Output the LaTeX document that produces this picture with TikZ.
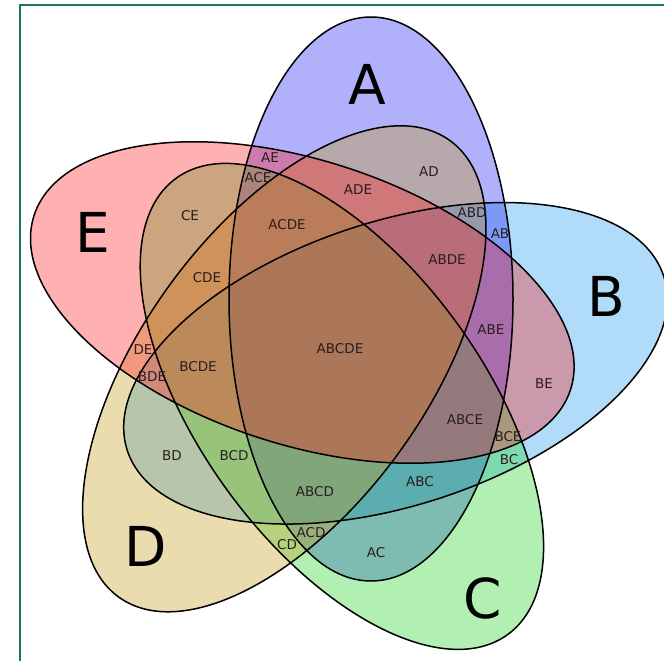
\documentclass[tikz,border=0pt]{standalone}
\usepackage{fontspec}
\setmainfont{DejaVu Sans}
\definecolor{cA}{RGB}{29,29,246}
\definecolor{cB}{RGB}{29,155,241}
\definecolor{cC}{RGB}{35,212,40}
\definecolor{cD}{RGB}{198,155,26}
\definecolor{cE}{RGB}{255,29,29}
\definecolor{labelcol}{RGB}{40,30,30}
\definecolor{framecol}{RGB}{26,120,88}
\begin{document}
\begin{tikzpicture}[x=1pt,y=-1pt,
  setfill/.style={fill=#1, fill opacity=0.35},
  outline/.style={draw=black, line width=1.5pt},
  small/.style={font=\fontsize{13.5}{15}\selectfont, text=labelcol, inner sep=0pt},
  big/.style={font=\fontsize{55}{60}\selectfont, text=black, inner sep=0pt}]
\useasboundingbox (0,0) rectangle (664,661);
\fill[white] (0,0) rectangle (664,661);
% fills, order B A C D E
\begin{scope}[shift={(395.5,363.3)}, rotate=18]
  \fill[setfill=cB] (0,0) ellipse [x radius=282pt, y radius=142pt];
\end{scope}
\begin{scope}[shift={(371,299)}, rotate=90]
  \fill[setfill=cA] (0,0) ellipse [x radius=282pt, y radius=142pt];
\end{scope}
\begin{scope}[shift={(341.9,406.4)}, rotate=-54]
  \fill[setfill=cC] (0,0) ellipse [x radius=282pt, y radius=142pt];
\end{scope}
\begin{scope}[shift={(284.3,368.8)}, rotate=54]
  \fill[setfill=cD] (0,0) ellipse [x radius=282pt, y radius=142pt];
\end{scope}
\begin{scope}[shift={(302.3,302.5)}, rotate=162]
  \fill[setfill=cE] (0,0) ellipse [x radius=282pt, y radius=142pt];
\end{scope}
% outlines
\begin{scope}[shift={(395.5,363.3)}, rotate=18]
  \draw[outline] (0,0) ellipse [x radius=282pt, y radius=142pt];
\end{scope}
\begin{scope}[shift={(371,299)}, rotate=90]
  \draw[outline] (0,0) ellipse [x radius=282pt, y radius=142pt];
\end{scope}
\begin{scope}[shift={(341.9,406.4)}, rotate=-54]
  \draw[outline] (0,0) ellipse [x radius=282pt, y radius=142pt];
\end{scope}
\begin{scope}[shift={(284.3,368.8)}, rotate=54]
  \draw[outline] (0,0) ellipse [x radius=282pt, y radius=142pt];
\end{scope}
\begin{scope}[shift={(302.3,302.5)}, rotate=162]
  \draw[outline] (0,0) ellipse [x radius=282pt, y radius=142pt];
\end{scope}
% frame
\coordinate (f1) at (664,5);
\coordinate (f2) at (20,5);
\coordinate (f3) at (20,661);
\draw[framecol, line width=2.5pt] (f1) -- (f2) -- (f3);
% set labels
\node[big] (tA) at (367,84) {A};
\node[big] (tB) at (606,296) {B};
\node[big] (tC) at (483,598) {C};
\node[big] (tD) at (146,546) {D};
\node[big] (tE) at (93,232) {E};
% region labels
\node[small] (rAE) at (270,158) {AE};
\node[small] (rACE) at (258,178) {ACE};
\node[small] (rADE) at (358,190) {ADE};
\node[small] (rAD) at (429,172) {AD};
\node[small] (rABD) at (472,213) {ABD};
\node[small] (rAB) at (500,234) {AB};
\node[small] (rCE) at (190,216) {CE};
\node[small] (rACDE) at (287,225) {ACDE};
\node[small] (rCDE) at (207,278) {CDE};
\node[small] (rABDE) at (447,260) {ABDE};
\node[small] (rABE) at (491,330) {ABE};
\node[small] (rDE) at (143,350) {DE};
\node[small] (rBDE) at (152,377) {BDE};
\node[small] (rBCDE) at (198,367) {BCDE};
\node[small] (rABCDE) at (340,349) {ABCDE};
\node[small] (rBE) at (544,384) {BE};
\node[small] (rABCE) at (465,420) {ABCE};
\node[small] (rBCE) at (508,437) {BCE};
\node[small] (rBC) at (509,460) {BC};
\node[small] (rBD) at (172,456) {BD};
\node[small] (rBCD) at (234,456) {BCD};
\node[small] (rABCD) at (315,492) {ABCD};
\node[small] (rABC) at (420,482) {ABC};
\node[small] (rACD) at (311,533) {ACD};
\node[small] (rCD) at (287,545) {CD};
\node[small] (rAC) at (376,553) {AC};
\end{tikzpicture}
\end{document}
